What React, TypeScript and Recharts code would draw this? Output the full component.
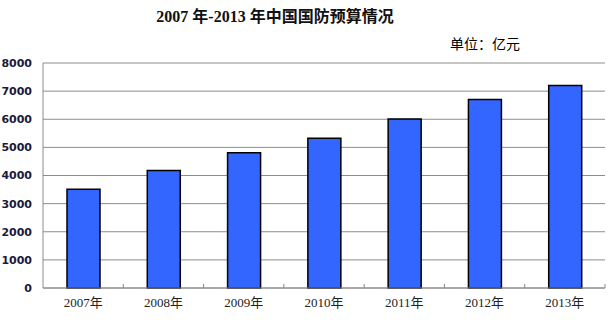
import { BarChart, Bar, XAxis, YAxis, CartesianGrid } from "recharts";

const years = ["2007年", "2008年", "2009年", "2010年", "2011年", "2012年", "2013年"];
const budget = [3509.2, 4177.8, 4806.9, 5321.2, 6011.6, 6702.7, 7201.7];
const yTicks = [0, 1000, 2000, 3000, 4000, 5000, 6000, 7000, 8000];

const data = years.map((year, i) => ({ year, value: budget[i] }));

const X_TICK_MARGIN = 15;

// category label plus a small upward tick at the right edge of each band
function YearTick(props: any) {
  const { x, y, payload } = props;
  const axisY = y - X_TICK_MARGIN;
  const edge = x + (payload.offset || 0);
  return (
    <g>
      <line x1={edge} y1={axisY} x2={edge} y2={axisY - 4} stroke="#888" strokeWidth={1} />
      <text
        x={x}
        y={y}
        dy={4}
        textAnchor="middle"
        fontSize={13}
        fill="#222"
        fontFamily='"Liberation Serif", "Noto Sans CJK SC", serif'
      >
        {payload.value}
      </text>
    </g>
  );
}

export default function App() {
  return (
    <div
      style={{
        position: "absolute",
        left: 0,
        top: 0,
        width: 610,
        height: 320,
        background: "#fff",
      }}
    >
      <div
        style={{
          position: "absolute",
          left: 0,
          width: 550,
          top: 3,
          textAlign: "center",
          fontSize: 16,
          fontWeight: "bold",
          fontFamily: '"Liberation Serif", "Noto Sans CJK SC", serif',
          color: "#111",
        }}
      >
        2007 年-2013 年中国国防预算情况
      </div>
      <div
        style={{
          position: "absolute",
          left: 450,
          top: 33,
          fontSize: 14,
          fontFamily: '"Noto Sans CJK SC", serif',
          color: "#000",
        }}
      >
        单位：亿元
      </div>
      <BarChart
        width={610}
        height={320}
        data={data}
        margin={{ top: 63, right: 5, bottom: 0, left: 0 }}
        barSize={33}
      >
        <CartesianGrid horizontal vertical={false} stroke="#8c8c8c" strokeWidth={1} />
        <XAxis
          dataKey="year"
          height={32}
          axisLine={{ stroke: "#8c8c8c" }}
          tickLine={false}
          tickSize={0}
          tickMargin={X_TICK_MARGIN}
          tick={<YearTick />}
          interval={0}
        />
        <YAxis
          width={43}
          domain={[0, 8000]}
          ticks={yTicks}
          interval={0}
          axisLine={{ stroke: "#8c8c8c" }}
          tickLine={false}
          tickSize={0}
          tickMargin={11}
          tick={{
            fontSize: 11,
            fontWeight: "bold",
            fill: "#1a1a3a",
            fontFamily: '"DejaVu Sans", Verdana, sans-serif',
          }}
        />
        <Bar
          dataKey="value"
          fill="#3366ff"
          stroke="#000"
          strokeWidth={1.5}
          isAnimationActive={false}
        />
      </BarChart>
    </div>
  );
}
